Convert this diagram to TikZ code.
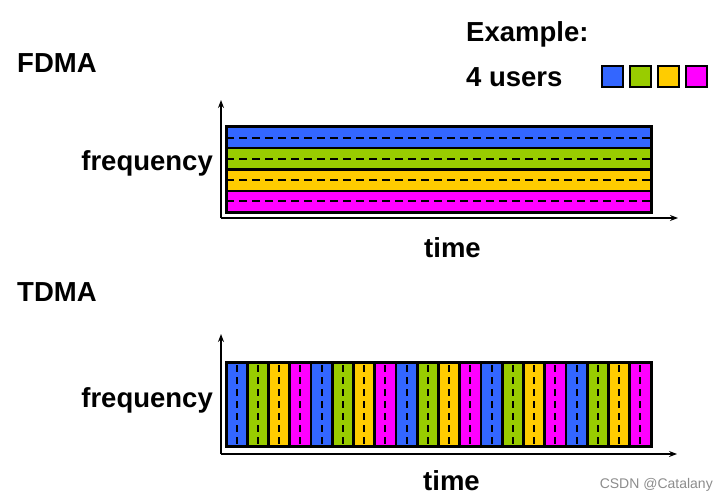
\documentclass[tikz,border=0pt]{standalone}
\usepackage{fontspec}
\setmainfont{Liberation Sans}
\usetikzlibrary{arrows.meta}

\definecolor{userA}{HTML}{3366FF}
\definecolor{userB}{HTML}{99CC00}
\definecolor{userC}{HTML}{FFCC00}
\definecolor{userD}{HTML}{FF00FF}

\begin{document}
\begin{tikzpicture}[x=1pt,y=-1pt,
  lbl/.style={font=\fontsize{27.5}{33}\selectfont\bfseries,inner sep=0pt},
  axis/.style={line width=1.3pt,-{Stealth[length=8pt,width=6pt]}},
  slot/.style={draw=black,line width=2.4pt},
  guard/.style={line width=2pt,dash pattern=on 8pt off 5pt},
  vguard/.style={line width=2pt,dash pattern=on 7pt off 5pt,dash phase=-3pt}]
\useasboundingbox (0,0) rectangle (728,500);

% legend
\node[lbl,anchor=base west] (example) at (466,42) {Example:};
\node[lbl,anchor=base west] (users) at (466,87) {4 users};
\foreach \c [count=\i from 0] in {userA,userB,userC,userD}
  \draw[slot,fill=\c] (602+28*\i,66) rectangle ++(21,21);

% FDMA
\node[lbl,anchor=base west] (fdma) at (17,73) {FDMA};
\coordinate (f0) at (221,218);
\coordinate (fy) at (221,100);
\coordinate (fx) at (678,218);
\draw[axis] (f0) -- (fy);
\draw[axis] (f0) -- (fx);
\node[lbl,anchor=base east] (ffreq) at (213,171) {frequency};
\node[lbl,anchor=base west] (ftime) at (424,257) {time};
\foreach \c [count=\i from 0] in {userA,userB,userC,userD} {
  \draw[slot,fill=\c] (226,127+21.25*\i) rectangle ++(425,21.25);
  \draw[guard] (226,137.6+21.25*\i) -- ++(425,0);
}
\draw[line width=3pt] (226,127) rectangle (651,212);

% TDMA
\node[lbl,anchor=base west] (tdma) at (17,301) {TDMA};
\coordinate (t0) at (221,454);
\coordinate (ty) at (221,334);
\coordinate (tx) at (677,454);
\draw[axis] (t0) -- (ty);
\draw[axis] (t0) -- (tx);
\node[lbl,anchor=base east] (tfreq) at (213,407) {frequency};
\node[lbl,anchor=base west] (ttime) at (423,490) {time};
\foreach \k in {0,...,19} {
  \pgfmathsetmacro{\u}{mod(\k,4)}
  \ifcase\u\relax \def\c{userA}\or \def\c{userB}\or \def\c{userC}\or \def\c{userD}\fi
  \draw[slot,line width=2.7pt,fill=\c] (226+21.25*\k,362) rectangle ++(21.25,84);
  \draw[vguard] (236.6+21.25*\k,362) -- ++(0,84);
}
\draw[line width=3pt] (226,362) rectangle (651,446);

\node[font=\fontsize{14}{16}\selectfont,text=black!45,anchor=base east,inner sep=0pt] (mark) at (713,488) {CSDN @Catalany};
\end{tikzpicture}
\end{document}
